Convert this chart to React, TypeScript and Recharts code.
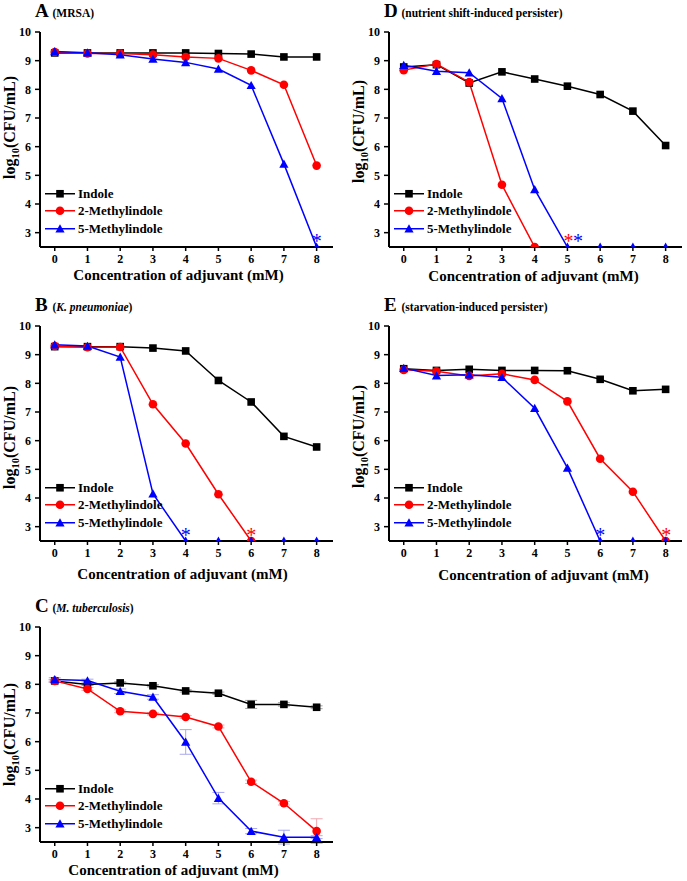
import React from 'react'
import { LineChart, Line, XAxis, YAxis, ErrorBar, Legend, ReferenceDot } from 'recharts'

const X_VALUES = [0, 1, 2, 3, 4, 5, 6, 7, 8]
const Y_TICKS = [3, 4, 5, 6, 7, 8, 9, 10]
const SERIES_NAMES = ['Indole', '2-Methylindole', '5-Methylindole']

// 2.5 = below detection (sits on the x axis), null = not plotted
const A_INDOLE = [9.27, 9.27, 9.27, 9.27, 9.27, 9.25, 9.23, 9.13, 9.13]
const A_M2 = [9.3, 9.25, 9.25, 9.21, 9.13, 9.08, 8.66, 8.16, 5.34]
const A_M5 = [9.32, 9.28, 9.21, 9.06, 8.94, 8.71, 8.14, 5.4, 2.5]
const A_STARS = [{ x: 8, series: 2 }]

const B_INDOLE = [9.28, 9.28, 9.28, 9.23, 9.13, 8.1, 7.35, 6.15, 5.78]
const B_M2 = [9.3, 9.26, 9.27, 7.27, 5.9, 4.13, 2.5, null, null]
const B_M5 = [9.35, 9.3, 8.92, 4.15, 2.5, 2.5, 2.5, 2.5, 2.5]
const B_STARS = [{ x: 4, series: 2 }, { x: 6, series: 1 }]

const C_INDOLE = [8.12, 7.99, 8.05, 7.95, 7.77, 7.69, 7.3, 7.3, 7.2]
const C_M2 = [8.12, 7.84, 7.06, 6.97, 6.86, 6.53, 4.6, 3.85, 2.88]
const C_M5 = [8.17, 8.13, 7.76, 7.56, 5.99, 4.03, 2.88, 2.67, 2.67]
const C_INDOLE_ERR = [0.05, 0.03, 0.04, 0.04, 0.04, 0.04, 0.14, 0.06, 0.05]
const C_M2_ERR = [0.04, 0.05, 0.05, 0.04, 0.05, 0.05, 0.06, 0.06, 0.43]
const C_M5_ERR = [0.06, 0.05, 0.08, 0.08, 0.43, 0.2, 0.09, 0.24, 0.05]

const D_INDOLE = [8.78, 8.86, 8.22, 8.61, 8.36, 8.11, 7.82, 7.24, 6.04]
const D_M2 = [8.67, 8.88, 8.25, 4.67, 2.5, null, null, null, null]
const D_M5 = [8.84, 8.63, 8.58, 7.68, 4.51, 2.5, 2.5, 2.5, 2.5]
const D_STARS = [{ x: 5.03, series: 1 }, { x: 5.32, series: 2 }]

const E_INDOLE = [8.51, 8.45, 8.49, 8.45, 8.45, 8.44, 8.14, 7.74, 7.79]
const E_M2 = [8.47, 8.42, 8.26, 8.33, 8.12, 7.37, 5.37, 4.22, 2.5]
const E_M5 = [8.53, 8.27, 8.3, 8.21, 7.13, 5.05, 2.5, 2.5, 2.5]
const E_STARS = [{ x: 6, series: 2 }, { x: 8.02, series: 1 }]

const FONT = "'Liberation Serif', 'Times New Roman', serif"
const COLORS = ['#000000', '#ff0000', '#0000ff']
const ERR_COLORS = ['#a0a0a0', '#f0a8b0', '#a8a8f0']
const SHAPES = ['square', 'circle', 'triangle']
const KEYS = ['indole', 'm2', 'm5']

const W = 345
const H = 300
const M = { top: 32, right: 12, bottom: 23, left: 10 }
const PLOT_L = 40
const PLOT_W = 293
const PLOT_B = 247

const PANELS = [
  { letter: 'A', left: 0, top: 0, sub: [['(MRSA)', false]], series: [A_INDOLE, A_M2, A_M5], stars: A_STARS, yDy: -12, xDx: -8, xDy: 28 },
  { letter: 'B', left: 0, top: 294, sub: [['(', false], ['K. pneumoniae', true], [')', false]], series: [B_INDOLE, B_M2, B_M5], stars: B_STARS, yDy: 4, xDx: -4, xDy: 33 },
  { letter: 'C', left: 0, top: 595, sub: [['(', false], ['M. tuberculosis', true], [')', false]], series: [C_INDOLE, C_M2, C_M5], errors: [C_INDOLE_ERR, C_M2_ERR, C_M5_ERR], stars: [], yDy: 0, xDx: -13, xDy: 28 },
  { letter: 'D', left: 349, top: 0, sub: [['(nutrient shift-induced persister)', false]], series: [D_INDOLE, D_M2, D_M5], stars: D_STARS, yDy: -8, xDx: -2, xDy: 29 },
  { letter: 'E', left: 349, top: 294, sub: [['(starvation-induced persister)', false]], series: [E_INDOLE, E_M2, E_M5], stars: E_STARS, yDy: 3, xDx: 8, xDy: 34 },
]

function Marker({ shape, cx, cy, color }: any) {
  if (shape === 'square') return <rect x={cx - 3.8} y={cy - 3.8} width={7.6} height={7.6} fill={color} />
  if (shape === 'circle') return <circle cx={cx} cy={cy} r={4.3} fill={color} />
  return <path d={`M${cx},${cy - 4.4}L${cx + 4.6},${cy + 3.8}L${cx - 4.6},${cy + 3.8}Z`} fill={color} />
}

const makeDot = (shape: string, color: string) => (props: any) => {
  const { cx, cy, index, value } = props
  if (cx == null || cy == null || value == null) return <g key={`e${index}`} />
  return <Marker key={`d${index}`} shape={shape} cx={cx} cy={cy} color={color} />
}

const LegendBox = () => (
  <div style={{ fontFamily: FONT, fontWeight: 'bold', fontSize: 13, color: '#000' }}>
    {SERIES_NAMES.map((name, i) => (
      <div key={name} style={{ display: 'flex', alignItems: 'center', height: 17.5 }}>
        <svg width={34} height={17.5} style={{ display: 'block' }}>
          <line x1={2} x2={32} y1={8.75} y2={8.75} stroke={COLORS[i]} strokeWidth={1.5} />
          <Marker shape={SHAPES[i]} cx={17} cy={8.75} color={COLORS[i]} />
        </svg>
        <span style={{ marginLeft: 1, lineHeight: '17.5px', whiteSpace: 'nowrap' }}>{name}</span>
      </div>
    ))}
  </div>
)

function Panel({ cfg }: any) {
  const data = X_VALUES.map((x, i) => {
    const row: any = { x }
    KEYS.forEach((k, s) => {
      row[k] = cfg.series[s][i]
      if (cfg.errors) row[`e${s}`] = cfg.errors[s][i]
    })
    return row
  })
  const yMid = M.top + (PLOT_B - M.top) / 2 + cfg.yDy

  return (
    <div style={{ position: 'absolute', left: cfg.left, top: cfg.top, width: W, height: H }}>
      <LineChart width={W} height={H} data={data} margin={M}>
        {KEYS.map((k, i) => (
          <Line
            key={k}
            type="linear"
            dataKey={k}
            name={SERIES_NAMES[i]}
            stroke={COLORS[i]}
            strokeWidth={1.5}
            dot={makeDot(SHAPES[i], COLORS[i])}
            activeDot={false}
            isAnimationActive={false}
          >
            {cfg.errors && <ErrorBar dataKey={`e${i}`} width={6} stroke={ERR_COLORS[i]} strokeWidth={1} direction="y" />}
          </Line>
        ))}
        <XAxis
          type="number"
          dataKey="x"
          domain={[-0.45, 8.5]}
          ticks={X_VALUES}
          allowDataOverflow
          height={30}
          tickSize={4}
          tickMargin={3}
          axisLine={{ stroke: '#000', strokeWidth: 2 }}
          tickLine={{ stroke: '#000', strokeWidth: 1.5 }}
          tick={{ fill: '#000', fontSize: 12, fontWeight: 'bold', fontFamily: FONT }}
        />
        <YAxis
          type="number"
          domain={[2.5, 10]}
          ticks={Y_TICKS}
          allowDataOverflow
          width={30}
          tickSize={5}
          tickMargin={4}
          axisLine={{ stroke: '#000', strokeWidth: 2 }}
          tickLine={{ stroke: '#000', strokeWidth: 1.5 }}
          tick={{ fill: '#000', fontSize: 12, fontWeight: 'bold', fontFamily: FONT }}
        />
        <Legend
          layout="horizontal"
          verticalAlign="middle"
          align="center"
          wrapperStyle={{ left: 43, top: PLOT_B - 62.5, width: 'auto' }}
          content={() => <LegendBox />}
        />
        {cfg.stars.map((s: any, i: number) => (
          <ReferenceDot
            key={i}
            x={s.x}
            y={2.5}
            r={0}
            shape={(p: any) => (
              <text x={p.cx} y={p.cy + 1} textAnchor="middle" fill={COLORS[s.series]} fontSize={20} fontFamily={FONT}>
                *
              </text>
            )}
          />
        ))}
      </LineChart>
      <svg width={W} height={H} style={{ position: 'absolute', left: 0, top: 0, pointerEvents: 'none' }} fontFamily={FONT} fontWeight="bold">
        <text x={35} y={17} fontSize={19}>{cfg.letter}</text>
        <text x={52.5} y={17} fontSize={11.5}>
          {cfg.sub.map(([t, it]: any, i: number) => (
            <tspan key={i} fontStyle={it ? 'italic' : 'normal'}>{t}</tspan>
          ))}
        </text>
        <text x={9} y={yMid + 5.5} fontSize={16} textAnchor="middle" transform={`rotate(-90 9 ${yMid})`}>
          log<tspan fontSize={10.5} dy={4}>10</tspan>
          <tspan dy={-4}>(CFU/mL)</tspan>
        </text>
        <text x={PLOT_L + PLOT_W / 2 + cfg.xDx} y={PLOT_B + cfg.xDy + 5} fontSize={15} textAnchor="middle">
          Concentration of adjuvant (mM)
        </text>
      </svg>
    </div>
  )
}

export default function App() {
  return (
    <div style={{ position: 'absolute', left: 0, top: 0, width: 687, height: 881, overflow: 'hidden', background: '#fff' }}>
      {PANELS.map(p => (
        <Panel key={p.letter} cfg={p} />
      ))}
    </div>
  )
}
